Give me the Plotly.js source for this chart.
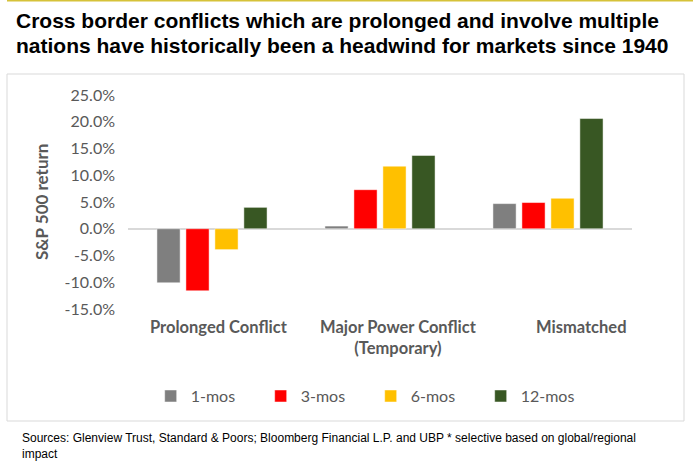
<!DOCTYPE html>
<html>
<head>
<meta charset="utf-8">
<script src="https://cdn.plot.ly/plotly-3.0.1.min.js"></script>
<style>html,body{margin:0;padding:0;background:#fff;}#chart{width:693px;height:470px;}</style>
</head>
<body>
<div id="chart"></div>
<script>
var categories = ["Prolonged Conflict", "Major Power Conflict<br>(Temporary)", "Mismatched"];
var seriesNames = ["1-mos", "3-mos", "6-mos", "12-mos"];
var oneMos = [-10.1, 0.5, 4.7];
var threeMos = [-11.6, 7.3, 4.9];
var sixMos = [-3.9, 11.7, 5.7];
var twelveMos = [4.0, 13.7, 20.6];
var seriesColors = ["#7f7f7f", "#ff0000", "#ffc000", "#385723"];
var yTicks = [-15, -10, -5, 0, 5, 10, 15, 20, 25];
var labelShift = [0.04, 0.11, 0.2];
var titleLines = ["Cross border conflicts which are prolonged and involve multiple",
                  "nations have historically been a headwind for markets since 1940"];
var yTitle = "S&amp;P 500 return";

var values = [oneMos, threeMos, sixMos, twelveMos];
var xIdx = [0, 1, 2];
var traces = values.map(function (v, i) {
  return {
    type: "bar",
    name: seriesNames[i],
    x: xIdx,
    y: v,
    marker: {color: seriesColors[i], line: {color: "rgba(255,255,255,0.6)", width: 0.8}},
    hoverinfo: "skip"
  };
});

var gray = "#595959";
var sans = "Lato, 'Open Sans', sans-serif";
var arial = "'Liberation Sans', Arial, sans-serif";
var annotations = categories.map(function (c, i) {
  return {
    text: c, x: i + labelShift[i], xref: "x", y: 0, yref: "paper",
    yshift: -6, yanchor: "top", showarrow: false,
    font: {family: sans, size: 16.5, color: gray, weight: "bold"}
  };
});
titleLines.forEach(function (t, i) {
  annotations.push({
    text: t, xref: "paper", yref: "paper", x: -114 / 504, xanchor: "left",
    y: (309 - 28 - 25 * i) / 214, yanchor: "bottom", showarrow: false, yshift: -6,
    font: {family: arial, size: 21, color: "#000", weight: "bold"}
  });
});
annotations.push({
  text: yTitle, xref: "paper", yref: "paper", x: -87 / 504, y: 0.5,
  xanchor: "center", yanchor: "middle", textangle: -90, showarrow: false,
  font: {family: sans, size: 17, color: gray, weight: "bold"}
});
annotations.push({
  text: "Sources: Glenview Trust, Standard &amp; Poors; Bloomberg Financial L.P. and UBP * selective based on global/regional<br>impact",
  xref: "paper", yref: "paper", x: -0.214, y: -0.56, xanchor: "left", yanchor: "top",
  align: "left", showarrow: false,
  font: {family: arial, size: 12, color: "#000"}
});

var layout = {
  width: 693, height: 470,
  margin: {l: 128, r: 61, t: 95, b: 161},
  paper_bgcolor: "#fff", plot_bgcolor: "#fff",
  barmode: "group", bargap: 0.31, bargroupgap: 0.2,
  showlegend: true,
  xaxis: {
    type: "linear", range: [-0.5, 2.5], showticklabels: false, showgrid: false,
    zeroline: false, showline: false, ticks: "", fixedrange: true
  },
  yaxis: {
    range: [-15, 25], tickmode: "array", tickvals: yTicks,
    ticktext: yTicks.map(function (v) { return v.toFixed(1) + "%"; }),
    showgrid: false, showline: false, ticks: "", zeroline: true,
    zerolinecolor: "#d9d9d9", zerolinewidth: 1.5, ticklabelstandoff: 12,
    tickfont: {family: sans, size: 16, color: gray},
    fixedrange: true
  },
  legend: {
    orientation: "h", x: 0.045, xanchor: "left", y: -0.407, yanchor: "middle",
    entrywidth: 65, entrywidthmode: "pixels", traceorder: "normal",
    font: {family: sans, size: 16, color: gray}
  },
  annotations: annotations,
  shapes: [
    {type: "rect", xref: "paper", yref: "paper", x0: -121 / 504, x1: 556 / 504, y0: -112 / 214, y1: 235 / 214,
      line: {color: "#d9d9d9", width: 1}, layer: "below"},
    {type: "line", xref: "paper", yref: "paper", x0: -121 / 504, x1: 565 / 504, y0: 309 / 214, y1: 309 / 214,
      line: {color: "#d6c239", width: 3}}
  ]
};

Plotly.newPlot("chart", traces, layout, {displayModeBar: false, staticPlot: true});
</script>
</body>
</html>
